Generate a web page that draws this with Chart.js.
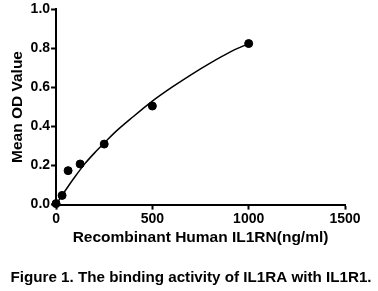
<!DOCTYPE html>
<html>
<head>
<meta charset="utf-8">
<script src="https://cdn.jsdelivr.net/npm/chart.js@4"></script>
<style>
  html, body { margin: 0; padding: 0; background: #fff; }
  #wrap { width: 378px; height: 291px; position: relative; }
</style>
</head>
<body>
<div id="wrap"><canvas id="chartBinding" width="378" height="291"></canvas></div>
<script>
// measured points (ng/ml vs mean OD)
var concentrations = [0, 31.25, 62.5, 125, 250, 500, 1000];
var meanOD = [0.005, 0.047, 0.174, 0.208, 0.31, 0.505, 0.825];

// fitted curve
var curveX = [0, 50, 100, 150, 200, 250, 300, 400, 500, 600, 700, 800, 900, 1000];
var curveY = [0, 0.075, 0.145, 0.21, 0.265, 0.315, 0.365, 0.45, 0.53, 0.6, 0.665, 0.725, 0.78, 0.825];

var xTicks = [0, 500, 1000, 1500];
var yTicks = [0, 0.2, 0.4, 0.6, 0.8, 1.0];

var caption = 'Figure 1. The binding activity of IL1RA with IL1R1.';

var fontFam = '"Liberation Sans", Arial, sans-serif';

// caption under the chart, centred on the whole canvas
var captionPlugin = {
  id: 'caption',
  afterDraw: function(chart){
    var c = chart.ctx;
    c.save();
    c.font = 'bold 15.2px ' + fontFam;
    c.fillStyle = '#000';
    c.textAlign = 'center';
    c.textBaseline = 'alphabetic';
    c.fillText(caption, chart.width / 2 + 2, 282);
    c.restore();
  }
};

var ctx = document.getElementById('chartBinding').getContext('2d');
var chartBinding = new Chart(ctx, {
  type: 'scatter',
  data: {
    datasets: [{
      label: 'Mean OD',
      data: concentrations.map(function(c, i){ return {x: c, y: meanOD[i]}; }),
      backgroundColor: '#000',
      borderColor: '#000',
      pointRadius: 4,
      showLine: false,
      clip: false
    }, {
      label: 'Fit',
      data: curveX.map(function(c, i){ return {x: c, y: curveY[i]}; }),
      borderColor: '#000',
      borderWidth: 1.5,
      pointRadius: 0,
      showLine: true,
      clip: false,
      cubicInterpolationMode: 'monotone'
    }]
  },
  plugins: [captionPlugin],
  options: {
    responsive: false,
    animation: false,
    layout: { padding: { top: 7, right: 33, left: 8, bottom: 44 } },
    plugins: {
      legend: { display: false },
      tooltip: { enabled: false }
    },
    scales: {
      x: {
        type: 'linear',
        min: 0,
        max: 1500,
        afterBuildTicks: function(axis){ axis.ticks = xTicks.map(function(v){ return {value: v}; }); },
        grid: { display: true, drawOnChartArea: false, drawTicks: true, tickLength: 5, color: '#000', tickColor: '#000', tickWidth: 2 },
        border: { display: true, color: '#000', width: 2 },
        ticks: {
          color: '#000',
          font: { family: fontFam, size: 14, weight: 'bold' },
          padding: 1,
          maxRotation: 0,
          callback: function(v){ return String(v); }
        },
        title: {
          display: true,
          text: 'Recombinant Human IL1RN(ng/ml)',
          color: '#000',
          font: { family: fontFam, size: 15.5, weight: 'bold' },
          padding: { top: 0, bottom: 0 }
        }
      },
      y: {
        min: 0,
        max: 1,
        afterBuildTicks: function(axis){ axis.ticks = yTicks.map(function(v){ return {value: v}; }); },
        grid: { display: true, drawOnChartArea: false, drawTicks: true, tickLength: 5, color: '#000', tickColor: '#000', tickWidth: 2 },
        border: { display: true, color: '#000', width: 2 },
        ticks: {
          color: '#000',
          font: { family: fontFam, size: 14, weight: 'bold' },
          padding: 1,
          callback: function(v){ return v.toFixed(1); }
        },
        title: {
          display: true,
          text: 'Mean OD Value',
          color: '#000',
          font: { family: fontFam, size: 15.5, weight: 'bold' },
          padding: { top: 0, bottom: 3 }
        }
      }
    }
  }
});
</script>
</body>
</html>
